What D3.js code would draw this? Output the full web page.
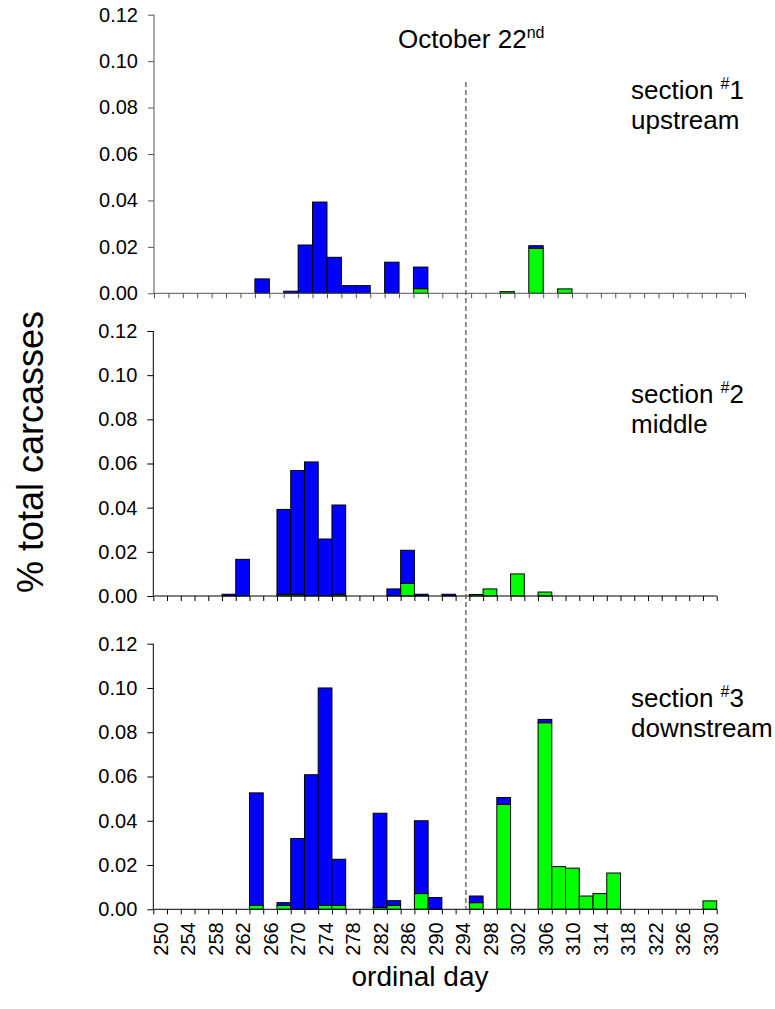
<!DOCTYPE html>
<html>
<head>
<meta charset="utf-8">
<script src="https://cdn.jsdelivr.net/npm/d3@7"></script>
<style>
  html, body { margin: 0; padding: 0; background: #fff; }
  svg { display: block; }
  text { font-family: "Liberation Sans", Arial, sans-serif; fill: #000; }
</style>
</head>
<body>
<svg id="chart" width="775" height="1009"></svg>
<script>
// ---- data (ordinal day categories, each bar spans 2 days) ----
const dayLabels = [250, 254, 258, 262, 266, 270, 274, 278, 282, 286, 290, 294, 298, 302, 306, 310, 314, 318, 322, 326, 330];
const yTicks = [0, 0.02, 0.04, 0.06, 0.08, 0.10, 0.12];

// section #1 upstream
const upDays  = [264,    268,    270,    272,    274,    276,    278,    282,    286,    298,    302,    306];
const upGreen = [0,      0,      0,      0,      0,      0,      0,      0,      0.0020, 0.0007, 0.0194, 0.0019];
const upBlue  = [0.0062, 0.0009, 0.0208, 0.0393, 0.0155, 0.0033, 0.0033, 0.0134, 0.0093, 0,      0.0011, 0];

// section #2 middle
const midDays  = [260,    262,    268,    270,    272,    274,    276,    284,    286,    288,    292,    296,    298,    302,    306];
const midGreen = [0,      0,      0.0008, 0.0008, 0,      0,      0.0008, 0,      0.0057, 0,      0,      0.0007, 0.0032, 0.0100, 0.0018];
const midBlue  = [0.0008, 0.0166, 0.0384, 0.0560, 0.0607, 0.0258, 0.0404, 0.0032, 0.0150, 0.0008, 0.0008, 0,      0,      0,      0];

// section #3 downstream
const dnDays  = [264,    268,    270,    272,    274,    276,    282,    284,    288,    290,    296,    300,    306,    308,    310,    312,    314,    316,    330];
const dnGreen = [0.0018, 0.0018, 0,      0,      0.0018, 0.0018, 0.0008, 0.0018, 0.0071, 0,      0.0030, 0.0474, 0.0843, 0.0193, 0.0186, 0.0060, 0.0071, 0.0164, 0.0038];
const dnBlue  = [0.0508, 0.0012, 0.0320, 0.0608, 0.0982, 0.0208, 0.0426, 0.0021, 0.0329, 0.0053, 0.0030, 0.0031, 0.0015, 0,      0,      0,      0,      0,      0];

const oct22Day = 294.5;

// ---- layout ----
const panels = [
  { days: upDays,  green: upGreen,  blue: upBlue,  x0: 154,   x1: 745,   y0: 293.3, y1: 14.7,  axisColor: "#555", label: ["section ", "#", "1", "upstream"], lx: 631, ly: 99 },
  { days: midDays, green: midGreen, blue: midBlue, x0: 153.3, x1: 716.7, y0: 596,   y1: 331,   axisColor: "#000", label: ["section ", "#", "2", "middle"],   lx: 631, ly: 403 },
  { days: dnDays,  green: dnGreen,  blue: dnBlue,  x0: 153.3, x1: 716.7, y0: 909.3, y1: 643.7, axisColor: "#000", label: ["section ", "#", "3", "downstream"], lx: 631, ly: 707 }
];

const svg = d3.select("#chart");
const oddDays = d3.range(249, 332, 2);

panels.forEach((p, pi) => {
  const x = d3.scaleLinear().domain([249, 331]).range([p.x0, p.x1]);
  const y = d3.scaleLinear().domain([0, 0.12]).range([p.y0, p.y1]);
  p.x = x; p.y = y;
  const g = svg.append("g");

  const rows = p.days.map((d, i) => ({ day: d, green: p.green[i], blue: p.blue[i] }));
  const stack = d3.stack().keys(["green", "blue"])(rows);
  const colors = { green: "#00ff00", blue: "#0000ff" };

  stack.forEach(layer => {
    g.append("g").selectAll("rect")
      .data(layer.filter(s => s[1] - s[0] > 0))
      .join("rect")
      .attr("x", s => x(s.data.day - 1))
      .attr("width", s => x(s.data.day + 1) - x(s.data.day - 1))
      .attr("y", s => y(s[1]))
      .attr("height", s => y(s[0]) - y(s[1]))
      .attr("fill", colors[layer.key])
      .attr("stroke", "#000")
      .attr("stroke-width", 1);
  });

  // y axis
  const ya = g.append("g").attr("transform", `translate(${p.x0},0)`)
    .call(d3.axisLeft(y).tickValues(yTicks).tickFormat(d3.format(".2f")).tickSize(6).tickPadding(10));
  ya.select(".domain").attr("stroke", p.axisColor).attr("d", `M0,${p.y1}V${p.y0}`);
  ya.selectAll(".tick line").attr("stroke", p.axisColor);
  ya.selectAll(".tick text").style("font-size", "20px").attr("fill", "#000");

  // x axis ticks (band edges)
  const xa = g.append("g").attr("transform", `translate(0,${p.y0})`)
    .call(d3.axisBottom(x).tickValues(oddDays).tickFormat("").tickSize(5).tickSizeOuter(0));
  xa.select(".domain").attr("stroke", p.axisColor).attr("d", `M${p.x0},0H${p.x1}`);
  xa.selectAll(".tick line").attr("stroke", p.axisColor);

  if (pi === 2) {
    const xl = g.append("g").attr("transform", `translate(0,${p.y0})`)
      .call(d3.axisBottom(x).tickValues(dayLabels).tickFormat(d3.format("d")).tickSize(0));
    xl.select(".domain").remove();
    xl.selectAll(".tick text")
      .style("font-size", "20px")
      .attr("text-anchor", "end")
      .attr("transform", "rotate(-90)")
      .attr("x", -13)
      .attr("y", 0)
      .attr("dy", "0.36em");
  }

  // section label
  const t = g.append("text").attr("x", p.lx).attr("y", p.ly).style("font-size", "26px");
  t.append("tspan").text(p.label[0]);
  t.append("tspan").text(p.label[1]).style("font-size", "16px").attr("dy", "-10");
  t.append("tspan").text(p.label[2]).attr("dy", "10");
  g.append("text").attr("x", p.lx).attr("y", p.ly + 30).style("font-size", "26px").text(p.label[3]);
});

// October 22nd dashed line (spans all panels)
const xd = panels[2].x(oct22Day);
svg.append("line")
  .attr("x1", xd).attr("x2", xd)
  .attr("y1", 82).attr("y2", panels[2].y0)
  .attr("stroke", "#555").attr("stroke-width", 1.3)
  .attr("stroke-dasharray", "5,3");

const oct = svg.append("text").attr("x", 398).attr("y", 48).style("font-size", "26px");
oct.append("tspan").text("October 22");
oct.append("tspan").text("nd").style("font-size", "16px").attr("dy", "-10");

// axis titles
svg.append("text")
  .attr("transform", "translate(43,452) rotate(-90)")
  .attr("text-anchor", "middle")
  .style("font-size", "36px")
  .text("% total carcasses");

svg.append("text")
  .attr("x", 420).attr("y", 986)
  .attr("text-anchor", "middle")
  .style("font-size", "28px")
  .text("ordinal day");
</script>
</body>
</html>
